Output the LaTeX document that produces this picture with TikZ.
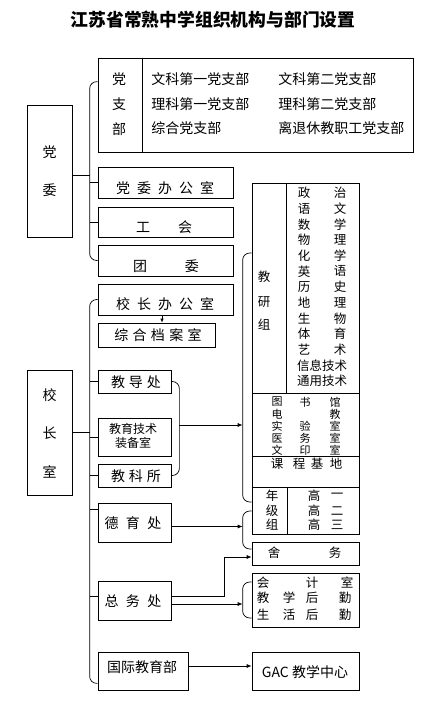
\documentclass[tikz,border=0pt]{standalone}
\usepackage{fontspec}
\setmainfont{Noto Sans CJK SC}
\usetikzlibrary{fit,arrows.meta,calc}
\newcommand{\gp}[1]{\hspace{#1pt}}

\begin{document}
\begin{tikzpicture}[x=1pt,y=-1pt,line width=0.7pt,
	box/.style={draw,inner sep=0pt},
	lbl/.style={inner sep=0pt,font=\fontsize{14pt}{16pt}\selectfont},
	sm/.style={inner sep=0pt,font=\fontsize{12.5pt}{14pt}\selectfont},
	tiny/.style={inner sep=0pt,font=\fontsize{11pt}{12pt}\selectfont},
	brk/.style={rounded corners=7pt},
	>={Latex[length=5pt,width=4pt]}]

	\useasboundingbox (0,0) rectangle (429,712);

	\node[inner sep=0pt,font=\fontsize{17.8pt}{20pt}\selectfont\bfseries] (title) at (213,20) {江苏省常熟中学组织机构与部门设置};

	% left column
	\node[box,fit={(27,105) (72,237)}] (dw) {};
	\node[box,fit={(27,370) (72,495)}] (xz) {};
	\node[lbl] (dwt1) at (49.5,152) {党};
	\node[lbl] (dwt2) at (49.5,190) {委};
	\node[lbl] (xzt1) at (49.5,395) {校};
	\node[lbl] (xzt2) at (49.5,433) {长};
	\node[lbl] (xzt3) at (49.5,472) {室};

	% party branches
	\node[box,fit={(98,58) (413,152)}] (dzb) {};
	\draw ([xshift=45pt]dzb.north west) -- ([xshift=45pt]dzb.south west);
	\foreach \c [count=\i] in {党,支,部}
		\node[lbl] (dzbt\i) at (119,{54+25*\i}) {\c};
	\node[lbl,anchor=west] (zb1) at (151,79) {文科第一党支部};
	\node[lbl,anchor=west] (zb2) at (278,79) {文科第二党支部};
	\node[lbl,anchor=west] (zb3) at (151,104) {理科第一党支部};
	\node[lbl,anchor=west] (zb4) at (278,104) {理科第二党支部};
	\node[lbl,anchor=west] (zb5) at (151,128) {综合党支部};
	\node[lbl,anchor=west] (zb6) at (278,128) {离退休教职工党支部};

	\node[box,fit={(98,167) (233,198)}] (dwbgs) {};
	\node[box,fit={(98,207) (233,237)}] (gh) {};
	\node[box,fit={(98,245) (233,276)}] (tw) {};
	\node[lbl] (dwbgst) at (165,188) {党\gp7委\gp7办\gp7公\gp7室};
	\node[lbl] (ght) at (164,227) {工\gp{28}会};
	\node[lbl] (twt) at (166,266) {团\gp{38}委};

	% principal's offices
	\node[box,fit={(98,284) (233,315)}] (xzbgs) {};
	\node[box,fit={(98,323) (215,347)}] (zhda) {};
	\node[box,fit={(98,370) (171,393)}] (jdc) {};
	\node[box,fit={(98,418) (171,456)}] (jyjs) {};
	\node[box,fit={(98,464) (171,487)}] (jks) {};
	\node[box,fit={(98,503) (171,542)}] (dyc) {};
	\node[box,fit={(98,581) (171,620)}] (zwc) {};
	\node[box,fit={(98,652) (188,690)}] (gjjy) {};
	\node[lbl] (xzbgst) at (165,304) {校\gp7长\gp7办\gp7公\gp7室};
	\node[lbl] (zhdat) at (158,335) {综\gp{4.3}合\gp{4.3}档\gp{4.3}案\gp{4.3}室};
	\node[lbl] (jdct) at (136,382) {教\gp4导\gp4处};
	\node[inner sep=0pt,font=\fontsize{12pt}{14pt}\selectfont] (jyjst1) at (133,429) {教育技术};
	\node[inner sep=0pt,font=\fontsize{12pt}{14pt}\selectfont] (jyjst2) at (133,443) {装备室};
	\node[lbl] (jkst) at (136,476) {教\gp4科\gp4所};
	\node[lbl] (dyct) at (133,523) {德\gp{7.5}育\gp{7.5}处};
	\node[lbl] (zwct) at (133,601) {总\gp{7.5}务\gp{7.5}处};
	\node[lbl] (gjjyt) at (142,667) {国际教育部};

	% right column
	\node[box,fit={(252,183) (359,534)}] (jyz) {};
	\draw ([xshift=35pt]jyz.north west) -- ++(0,210);
	\foreach \yy in {393,456,487}
		\draw (jyz.west |- 0,\yy) -- (jyz.east |- 0,\yy);
	\draw ([xshift=36pt]jyz.south west) -- ++(0,-47);
	\node[sm] (jyzt1) at (264,277) {教};
	\node[sm] (jyzt2) at (264,302) {研};
	\node[sm] (jyzt3) at (264,325) {组};
	\foreach \a/\b [count=\i] in {政/治,语/文,数/学,物/理,化/学,英/语,历/史,地/理,生/物,体/育,艺/术}{
		\node[sm] (kma\i) at (304,{193+15.67*(\i-1)}) {\a};
		\node[sm] (kmb\i) at (340,{193+15.67*(\i-1)}) {\b};
	}
	\node[sm] (xxjs) at (322,366) {信息技术};
	\node[sm] (tyjs) at (322,381) {通用技术};

	\foreach \a/\b/\c/\yy [count=\i] in {图/书/馆/402,电//教/414,实/验/室/426,医/务/室/438,文/印/室/450}{
		\node[tiny] (gsa\i) at (277,\yy) {\a};
		\node[tiny] (gsb\i) at (305,\yy) {\b};
		\node[tiny] (gsc\i) at (335,\yy) {\c};
	}
	\node[sm] (kcjd) at (306.5,464) {课\gp{9.5}程\gp{5.5}基\gp{6.5}地};

	\node[sm] (njz1) at (272,496) {年};
	\node[sm] (njz2) at (272,511) {级};
	\node[sm] (njz3) at (272,525) {组};
	\foreach \c/\yy [count=\i] in {一/496,二/511,三/525}{
		\node[sm] (gao\i) at (314,\yy) {高};
		\node[sm] (nj\i) at (337,\yy) {\c};
	}

	\node[box,fit={(252,542) (359,565)}] (sw) {};
	\node[sm] (swt1) at (274,553) {舍};
	\node[sm] (swt2) at (335,553) {务};

	\node[box,fit={(252,573) (359,627)}] (kjs) {};
	\node[sm] (kjs1) at (263,583) {会};
	\node[sm] (kjs2) at (312,583) {计};
	\node[sm] (kjs3) at (347,583) {室};
	\foreach \a/\b/\yy [count=\i] in {教/学/598,生/活/615}{
		\node[sm] (hqa\i) at (263,\yy) {\a};
		\node[sm] (hqb\i) at (289,\yy) {\b};
		\node[sm] (hqc\i) at (312,\yy) {后};
		\node[sm] (hqd\i) at (345,\yy) {勤};
	}

	\node[box,fit={(252,652) (359,690)}] (gac) {};
	\node[lbl] (gact) at (305,672) {GAC 教学中心};

	% connectors
	\draw[brk] ([yshift=-24pt]dzb.north west) -- ++(-8,0) |- (tw.west);
	\draw ([yshift=-4pt]dw.east) -- ++(18,0);
	\draw (dwbgs.west) -- ++(-8,0);
	\draw (gh.west) -- ++(-8,0);

	\draw[brk] (xzbgs.west) -- ++(-8,0) |- ([yshift=7pt]gjjy.south west);
	\draw (xz.east) -- ++(18,0);
	\foreach \n in {jdc,jyjs,jks}
		\draw (\n.west) -- ++(-8,0);
	\draw ([yshift=13pt]dyc.west) -- ++(-8,0);
	\draw ([yshift=4.5pt]zwc.west) -- ++(-8,0);

	\draw[->,>={Latex[length=4pt,width=3.5pt]}] ([xshift=-3.5pt]xzbgs.south) -- ([xshift=-3.5pt]xzbgs.south |- zhda.north);

	\draw[brk] (jdc.east) -- ++(8,0) |- (jks.east);
	\coordinate (jdkm) at ([xshift=8pt]jyjs.east |- 0,425);
	\coordinate (jyzl) at ([xshift=-9pt]jyz.west |- 0,425);
	\draw[->] (jdkm) -- (jyzl);
	\draw[brk] (jyz.west |- 0,253) -- ++(-9,0) |- (jyz.west |- 0,502);

	\draw[brk] (jyz.west |- 0,511) -- ++(-9,0) |- ([yshift=4.5pt]sw.west);
	\draw[->] ([yshift=-4pt]dyc.east) -- ([yshift=-4pt]dyc.east -| jyzl);

	\draw[->] ([yshift=4.5pt]zwc.east) -- ++(53,0) |- ([yshift=-3.5pt]sw.west);
	\draw[->] ([yshift=-3.5pt]zwc.east) -- ([yshift=-3.5pt]zwc.east -| jyzl);
	\draw[brk] (kjs.west |- 0,582) -- ++(-9,0) |- (kjs.west |- 0,618);

	\draw[->] ([yshift=5pt]gjjy.east) -- ([yshift=5pt]gjjy.east -| gac.west);

\end{tikzpicture}
\end{document}
